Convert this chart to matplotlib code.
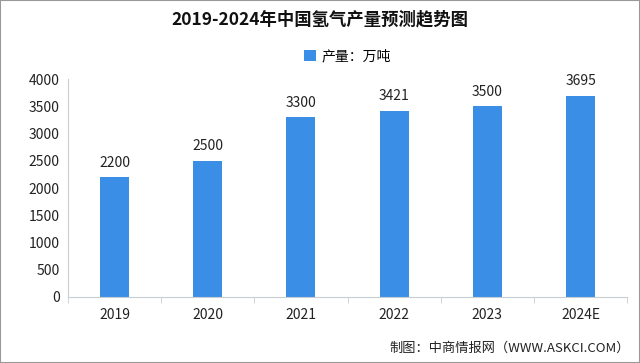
import matplotlib
matplotlib.use("Agg")
from matplotlib import pyplot as plt
from matplotlib.patches import Rectangle

plt.rcParams['font.family'] = ['Noto Sans CJK SC', 'DejaVu Sans']

years = ["2019", "2020", "2021", "2022", "2023", "2024E"]
output = [2200, 2500, 3300, 3421, 3500, 3695]
yticks = [0, 500, 1000, 1500, 2000, 2500, 3000, 3500, 4000]

title = "2019-2024年中国氢气产量预测趋势图"
series_name = "产量：万吨"
source = "制图：中商情报网（WWW.ASKCI.COM）"

bar_color = "#3A8EE6"
axis_color = "#C8CDD3"

fig = plt.figure(figsize=(6.4, 3.63), dpi=100)
ax = fig.add_axes([0.106, 0.182, 0.874, 0.6])

x = list(range(len(years)))
bars = ax.bar(x, output, width=0.31, color=bar_color, label=series_name, zorder=2)
for xi, v in zip(x, output):
    ax.text(xi, v + 140, str(v), ha="center", va="bottom", fontsize=10, color="#222222")

ax.set_xlim(-0.5, len(years) - 0.5)
ax.set_ylim(0, 4000)
ax.set_yticks(yticks)
ax.set_yticklabels([str(t) for t in yticks], fontsize=10, color="#222222")
ax.set_xticks(x)
ax.set_xticklabels(years, fontsize=10, color="#222222")
ax.tick_params(axis="x", length=0, pad=8)
ax.tick_params(axis="y", length=0, pad=6)

# small separator ticks between categories
ax.set_xticks([i - 0.5 for i in range(len(years) + 1)], minor=True)
ax.tick_params(axis="x", which="minor", length=4, color=axis_color, direction="out")

for s in ["top", "right"]:
    ax.spines[s].set_visible(False)
ax.spines["left"].set_color(axis_color)
ax.spines["bottom"].set_color(axis_color)

fig.text(0.5, 0.945, title, ha="center", va="center", fontsize=12.5, fontweight="bold", color="#111111")
ax.legend(loc="center", bbox_to_anchor=(0.5, 1.105), bbox_transform=ax.transAxes,
          frameon=False, fontsize=10, handlelength=0.8, handleheight=0.8, handletextpad=0.4)
fig.text(0.985, 0.04, source, ha="right", va="center", fontsize=9.5, color="#222222")

fig.patches.append(Rectangle((0, 0), 1, 1, transform=fig.transFigure, fill=False,
                             edgecolor="#999999", linewidth=1.5))

fig.savefig("out.png", dpi=100)
